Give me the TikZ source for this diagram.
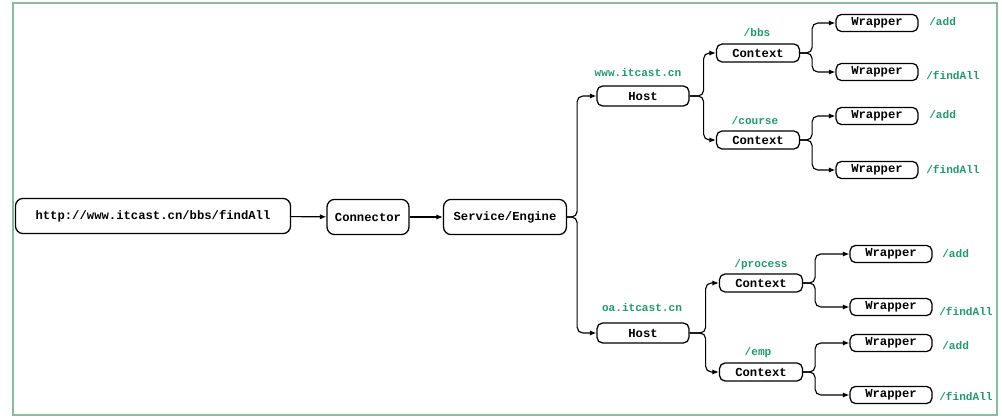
\documentclass[tikz,border=0pt]{standalone}
\usepackage{fontspec}
\setmonofont{Liberation Mono}
\usetikzlibrary{arrows.meta}
\definecolor{pathgreen}{RGB}{38,150,110}
\definecolor{framegreen}{RGB}{140,185,160}
\tikzset{%
  >={Latex[width=1.3mm,length=1.6mm]},
  % Specifications for style of nodes:
         base/.style = {rectangle, draw=black, line width=0.9pt, inner sep=0pt,
                        text centered, font=\ttfamily\bfseries\fontsize{8.7}{10}\selectfont},
      mainbox/.style = {base, rounded corners=5.5pt, minimum height=0.88cm},
      treebox/.style = {base, rounded corners=4pt},
      hostbox/.style = {treebox, minimum width=2.3cm, minimum height=0.5cm},
   contextbox/.style = {treebox, minimum width=2.075cm, minimum height=0.45cm},
   wrapperbox/.style = {treebox, minimum width=2.05cm, minimum height=0.43cm},
    pathlabel/.style = {text=pathgreen, inner sep=0pt,
                        font=\ttfamily\bfseries\fontsize{7.9}{9}\selectfont},
         link/.style = {->, line width=0.8pt, rounded corners=4pt},
}

\begin{document}
\begin{tikzpicture}[x=0.025cm, y=-0.025cm]
  \useasboundingbox (0,0) rectangle (1002,420);
  \draw[framegreen, line width=1pt] (13,3) rectangle (997,415);
  % Specification of nodes (position, etc.)
  \node (url)  [mainbox, minimum width=6.875cm] at (153,216) {http://www.itcast.cn/bbs/findAll};
  \node (conn) [mainbox, minimum width=2.05cm]  at (368,217) {Connector};
  \node (svc)  [mainbox, minimum width=3.075cm] at (505,217) {Service/Engine};
  % first host
  \node (hostA) [hostbox]    at (643,96)  {Host};
  \node (ctxA)  [contextbox] at (758,53)  {Context};
  \node (ctxB)  [contextbox] at (758,140) {Context};
  \node (wrpA)  [wrapperbox] at (877,23)  {Wrapper};
  \node (wrpB)  [wrapperbox] at (877,72)  {Wrapper};
  \node (wrpC)  [wrapperbox] at (877,116) {Wrapper};
  \node (wrpD)  [wrapperbox] at (877,170) {Wrapper};
  % second host
  \node (hostB) [hostbox]    at (643,333) {Host};
  \node (ctxC)  [contextbox] at (761,283) {Context};
  \node (ctxD)  [contextbox] at (761,372) {Context};
  \node (wrpE)  [wrapperbox] at (891,254) {Wrapper};
  \node (wrpF)  [wrapperbox] at (891,307) {Wrapper};
  \node (wrpG)  [wrapperbox] at (891,343) {Wrapper};
  \node (wrpH)  [wrapperbox] at (891,395) {Wrapper};
  % green labels
  \node (lhostA) [pathlabel] at (638,73)  {www.itcast.cn};
  \node (lhostB) [pathlabel] at (642,308) {oa.itcast.cn};
  \node (lctxA)  [pathlabel] at (757,33)  {/bbs};
  \node (lctxB)  [pathlabel] at (755,121) {/course};
  \node (lctxC)  [pathlabel] at (761,265) {/process};
  \node (lctxD)  [pathlabel] at (758,353) {/emp};
  \node (lwrpA)  [pathlabel, anchor=west] at (929,22)  {/add};
  \node (lwrpB)  [pathlabel, anchor=west] at (926,75)  {/findAll};
  \node (lwrpC)  [pathlabel, anchor=west] at (929,115) {/add};
  \node (lwrpD)  [pathlabel, anchor=west] at (926,169) {/findAll};
  \node (lwrpE)  [pathlabel, anchor=west] at (942,254) {/add};
  \node (lwrpF)  [pathlabel, anchor=west] at (939,311) {/findAll};
  \node (lwrpG)  [pathlabel, anchor=west] at (942,346) {/add};
  \node (lwrpH)  [pathlabel, anchor=west] at (939,396) {/findAll};
  % connectors
  \draw[link] (url) -- (conn);
  \draw[link] (conn) -- (svc);
  \draw[link] (svc.east) -- ++(10,0) |- (hostA);
  \draw[link] (svc.east) -- ++(10,0) |- (hostB);
  \draw[link] (hostA.east) -- ++(14,0) |- (ctxA);
  \draw[link] (hostA.east) -- ++(14,0) |- (ctxB);
  \draw[link] (hostB.east) -- ++(16,0) |- (ctxC);
  \draw[link] (hostB.east) -- ++(16,0) |- (ctxD);
  \draw[link] (ctxA.east) -- ++(12,0) |- (wrpA);
  \draw[link] (ctxA.east) -- ++(12,0) |- (wrpB);
  \draw[link] (ctxB.east) -- ++(12,0) |- (wrpC);
  \draw[link] (ctxB.east) -- ++(12,0) |- (wrpD);
  \draw[link] (ctxC.east) -- ++(12,0) |- (wrpE);
  \draw[link] (ctxC.east) -- ++(12,0) |- (wrpF);
  \draw[link] (ctxD.east) -- ++(12,0) |- (wrpG);
  \draw[link] (ctxD.east) -- ++(12,0) |- (wrpH);
\end{tikzpicture}
\end{document}
